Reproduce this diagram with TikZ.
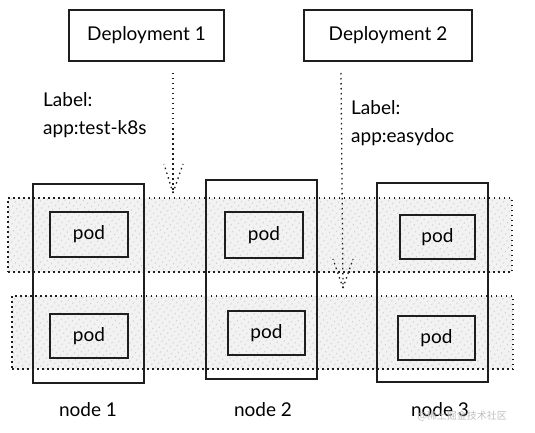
\documentclass[tikz,border=0pt]{standalone}
\usepackage{fontspec}
\setmainfont{Lato}
\newfontfamily\cjk{Noto Sans CJK SC}
\usepackage{tikz}
\usetikzlibrary{arrows.meta,patterns.meta}
\definecolor{inkgray}{RGB}{30,30,30}
\definecolor{hatchgray}{RGB}{205,205,205}
\definecolor{bandgray}{RGB}{242,242,242}
\tikzset{
    deploy/.style={
        rectangle,
        draw=inkgray,
        line width=1.2pt,
        inner sep=0pt,
        font=\fontsize{19}{21}\selectfont
    },
    band/.style={
        rectangle,
        draw=inkgray,
        dash pattern=on 1.5pt off 3.5pt,
        line width=1.3pt,
        preaction={fill=bandgray},
        pattern={Lines[angle=55,distance=5pt,line width=0.7pt]},
        pattern color=hatchgray,
        inner sep=0pt
    },
    host/.style={
        rectangle,
        draw=inkgray,
        line width=1.2pt,
        inner sep=0pt,
        minimum width=111pt,
        minimum height=199pt
    },
    pod/.style={
        rectangle,
        draw=inkgray,
        line width=1.2pt,
        inner sep=0pt,
        font=\fontsize{19}{21}\selectfont
    },
    txt/.style={font=\fontsize{19}{28}\selectfont, align=left, inner sep=0pt},
    sel/.style={draw=inkgray, line width=1.3pt, dash pattern=on 1.5pt off 3.5pt}
}

\begin{document}
\begin{tikzpicture}[x=1pt,y=-1pt]
\useasboundingbox (0,0) rectangle (535,433);

% Deployments
\node[deploy, minimum width=155pt, minimum height=51pt] (dep1) at (146.5,35.5) {Deployment 1};
\node[deploy, minimum width=168pt, minimum height=51pt] (dep2) at (388,35.5) {Deployment 2};

\node[txt, anchor=west] (lab1) at (43,115) {Label:\\app:test-k8s};
\node[txt, anchor=west] (lab2) at (351,123) {Label:\\app:easydoc};

% Label rows
\node[band, minimum width=504pt, minimum height=74pt] (row1) at (260,235) {};
\node[band, minimum width=501pt, minimum height=73pt] (row2) at (262.5,332.5) {};

% Hosts
\node[host] (host1) at (88.5,283.5) {};
\node[host] (host2) at (261.5,279.5) {};
\node[host] (host3) at (432.5,282.5) {};

% Pods
\node[pod, minimum width=78pt, minimum height=45pt] (p11) at (89,234.5) {pod};
\node[pod, minimum width=78pt, minimum height=46pt] (p12) at (264,235) {pod};
\node[pod, minimum width=75pt, minimum height=44pt] (p13) at (437.5,237) {pod};
\node[pod, minimum width=78pt, minimum height=44pt] (p21) at (89,336) {pod};
\node[pod, minimum width=77pt, minimum height=44pt] (p22) at (266.5,333) {pod};
\node[pod, minimum width=77pt, minimum height=44pt] (p23) at (436.5,338) {pod};

\node[txt] (n1) at (88,410) {node 1};
\node[txt] (n2) at (263,410) {node 2};
\node[txt] (n3) at (440,410) {node 3};

% Selectors (dotted, with dotted barbs)
\coordinate (s1) at (173,73);
\coordinate (e1) at (173,193);
\coordinate (s2) at (341,73);
\coordinate (e2) at (343,288);
\draw[sel] (s1) -- (e1);
\draw[sel] (e1) -- ++(-9,-29);
\draw[sel] (e1) -- ++(10,-29);
\draw[sel] (s2) -- (e2);
\draw[sel] (e2) -- ++(-10,-29);
\draw[sel] (e2) -- ++(10,-29);

\node[font=\cjk\fontsize{10}{12}\selectfont, text=gray!50, anchor=west] (wm) at (414,416) {@稀土掘金技术社区};

\end{tikzpicture}
\end{document}
